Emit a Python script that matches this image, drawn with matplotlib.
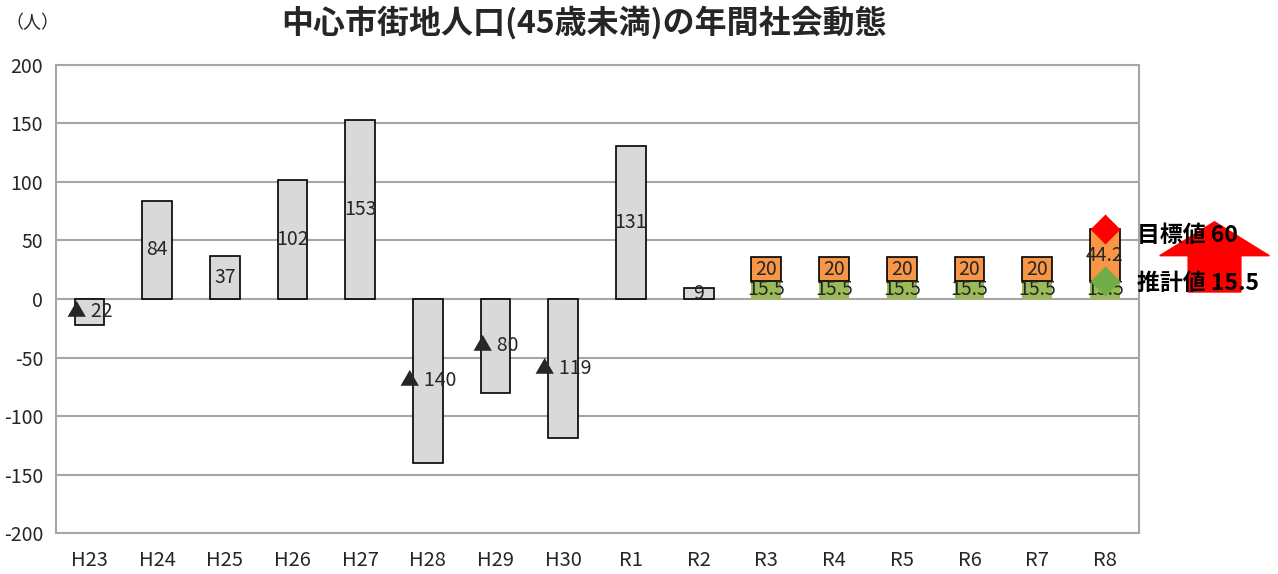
import numpy as np
import matplotlib
matplotlib.use('Agg')
import matplotlib.pyplot as plt
from matplotlib.patches import FancyArrow

plt.rcParams['font.family'] = ['Noto Sans CJK JP', 'DejaVu Sans']

# data
years = ['H23', 'H24', 'H25', 'H26', 'H27', 'H28', 'H29', 'H30', 'R1', 'R2',
         'R3', 'R4', 'R5', 'R6', 'R7', 'R8']
actual = [-22, 84, 37, 102, 153, -140, -80, -119, 131, 9]
estimate = [15.5, 15.5, 15.5, 15.5, 15.5, 15.5]
extra = [20, 20, 20, 20, 20, 44.2]
target = 60
est_value = 15.5
yticks = [200, 150, 100, 50, 0, -50, -100, -150, -200]

gray = '#d9d9d9'
orange = '#f79646'
green = '#9bbb59'
txt = '#262626'

fig = plt.figure(figsize=(12.78, 5.74), dpi=100)
ax = fig.add_axes([0.0435, 0.0714, 0.8475, 0.8154])

x = np.arange(len(years))
w = 0.44
xa = x[:len(actual)]
xf = x[len(actual):]

ax.bar(xa, actual, w, color=gray, edgecolor='black', linewidth=1.2, zorder=3)
ax.bar(xf, estimate, w, color=green, edgecolor='none', zorder=3)
ax.bar(xf, extra, w, bottom=estimate, color=orange, edgecolor='black',
       linewidth=1.2, zorder=3)

# labels on bars
for xi, v in zip(xa, actual):
    lab = str(v) if v >= 0 else '▲ ' + str(-v)
    ax.text(xi, v / 2, lab, ha='center', va='center', fontsize=14,
            color=txt, zorder=5)
for xi, e, d in zip(xf, estimate, extra):
    ax.text(xi, e / 2, '%g' % e, ha='center', va='center', fontsize=14,
            color=txt, zorder=5)
    ax.text(xi, e + d / 2, '%g' % d, ha='center', va='center', fontsize=14,
            color=txt, zorder=5)

# target / estimate markers on last year
ax.plot(xf[-1], target, 'D', ms=15.5, color='#ff0000', mec='none', zorder=6)
ax.plot(xf[-1], est_value, 'D', ms=15.5, color='#70ad47', mec='none', zorder=6)

# red arrow behind the side labels
arr = FancyArrow(16.62, 6, 0, 60, width=0.78, head_width=1.62,
                 head_length=29, length_includes_head=True,
                 color='#ff0000', clip_on=False, zorder=1)
ax.add_patch(arr)
ax.text(15.48, 54, '目標値 60', ha='left', va='center', fontsize=16.5,
        fontweight='bold', color='black', zorder=7)
ax.text(15.48, 13.5, '推計値 15.5', ha='left', va='center', fontsize=16.5,
        fontweight='bold', color='black', zorder=7)

ax.set_xlim(-0.5, 15.5)
ax.set_ylim(-200, 200)
ax.set_yticks(yticks)
ax.set_yticklabels([str(t) for t in yticks])
ax.set_xticks(x)
ax.set_xticklabels(years)
ax.tick_params(axis='both', length=0, labelsize=14.5, colors=txt)
ax.tick_params(axis='y', pad=9, labelsize=14)
ax.tick_params(axis='x', pad=12)
ax.grid(axis='y', color='#a6a6a6', linewidth=1.5, zorder=0)
for s in ax.spines.values():
    s.set_color('#a6a6a6')
    s.set_linewidth(1.5)

fig.text(0.457, 0.96, '中心市街地人口(45歳未満)の年間社会動態', ha='center',
         va='center', fontsize=23, fontweight='bold', color=txt)
fig.text(0.004, 0.96, '（人）', ha='left', va='center', fontsize=13,
         color=txt)

fig.savefig('out.png', dpi=100)
